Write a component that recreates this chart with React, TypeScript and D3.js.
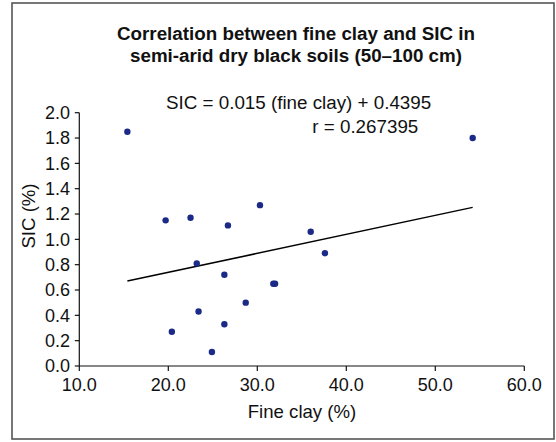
import React from "react";
import * as d3 from "d3";

// Fine clay (%) vs soil inorganic carbon (%) for each sampled profile
const fineClay = [15.4, 19.7, 22.5, 26.7, 30.3, 36.0, 37.6, 23.2, 26.3, 31.8, 32.0, 28.7, 23.4, 26.3, 20.4, 24.9, 54.2];
const sic = [1.85, 1.15, 1.17, 1.11, 1.27, 1.06, 0.89, 0.81, 0.72, 0.65, 0.65, 0.50, 0.43, 0.33, 0.27, 0.11, 1.80];

// Least-squares fit reported on the chart
const slope = 0.015;
const intercept = 0.4395;
const rValue = "0.267395";

const xTicks = [10, 20, 30, 40, 50, 60];
const yTicks = [0, 0.2, 0.4, 0.6, 0.8, 1.0, 1.2, 1.4, 1.6, 1.8, 2.0];

const titleLines = [
  "Correlation between fine clay and SIC in",
  "semi-arid dry black soils (50\u2013100 cm)",
];

const W = 556;
const H = 442;
const font = "'Liberation Sans', Arial, sans-serif";

export default function App() {
  const x = d3.scaleLinear().domain([10, 60]).range([79.3, 524.3]);
  const y = d3.scaleLinear().domain([0, 2]).range([366, 112.7]);

  const xMin = d3.min(fineClay) as number;
  const xMax = d3.max(fineClay) as number;
  const fitLine = d3
    .line<number>()
    .x((d) => x(d))
    .y((d) => y(slope * d + intercept));

  const points = fineClay.map((v, i) => ({ fx: v, fy: sic[i] }));

  return (
    <svg
      width={W}
      height={H}
      style={{ position: "absolute", left: 0, top: 0, background: "#fff" }}
      fontFamily={font}
    >
      <rect x={0} y={0} width={W} height={H} fill="#fff" />
      {/* outer frame */}
      <rect x={12} y={3} width={542} height={436} fill="none" stroke="#555" strokeWidth={1.6} />

      {/* title */}
      {titleLines.map((t, i) => (
        <text
          key={i}
          x={296}
          y={40 + i * 21.5}
          textAnchor="middle"
          fontSize={18.8}
          fontWeight="bold"
          fill="#111"
        >
          {t}
        </text>
      ))}

      {/* regression annotation */}
      <text x={166} y={109} fontSize={18.8} fill="#111">
        {`SIC = ${slope} (fine clay) + ${intercept}`}
      </text>
      <text x={418.3} y={133} fontSize={18.8} fill="#111" textAnchor="end">
        {`r = ${rValue}`}
      </text>

      {/* y axis */}
      <line x1={x(10)} x2={x(10)} y1={y(0)} y2={y(2)} stroke="#111" strokeWidth={1.2} />
      {yTicks.map((t) => (
        <g key={"y" + t}>
          <line x1={x(10) - 4.5} x2={x(10)} y1={y(t)} y2={y(t)} stroke="#111" strokeWidth={1.2} />
          <text x={70} y={y(t) + 6.3} textAnchor="end" fontSize={18} fill="#111">
            {t.toFixed(1)}
          </text>
        </g>
      ))}

      {/* x axis */}
      <line x1={x(10)} x2={x(60)} y1={y(0)} y2={y(0)} stroke="#111" strokeWidth={1.2} />
      {xTicks.map((t) => (
        <g key={"x" + t}>
          <line x1={x(t)} x2={x(t)} y1={y(0)} y2={y(0) + 5} stroke="#111" strokeWidth={1.2} />
          <text x={x(t)} y={391} textAnchor="middle" fontSize={18} fill="#111">
            {t.toFixed(1)}
          </text>
        </g>
      ))}

      {/* axis titles */}
      <text x={302} y={418} textAnchor="middle" fontSize={18.6} fill="#111">
        Fine clay (%)
      </text>
      <text
        transform={`translate(35,216) rotate(-90)`}
        textAnchor="middle"
        fontSize={18.6}
        fill="#111"
      >
        SIC (%)
      </text>

      {/* fitted trend line */}
      <path d={fitLine([xMin, xMax]) ?? ""} fill="none" stroke="#000" strokeWidth={1.5} />

      {/* observations */}
      {points.map((p, i) => (
        <circle key={i} cx={x(p.fx)} cy={y(p.fy)} r={3.2} fill="#1b2a87" />
      ))}
    </svg>
  );
}
